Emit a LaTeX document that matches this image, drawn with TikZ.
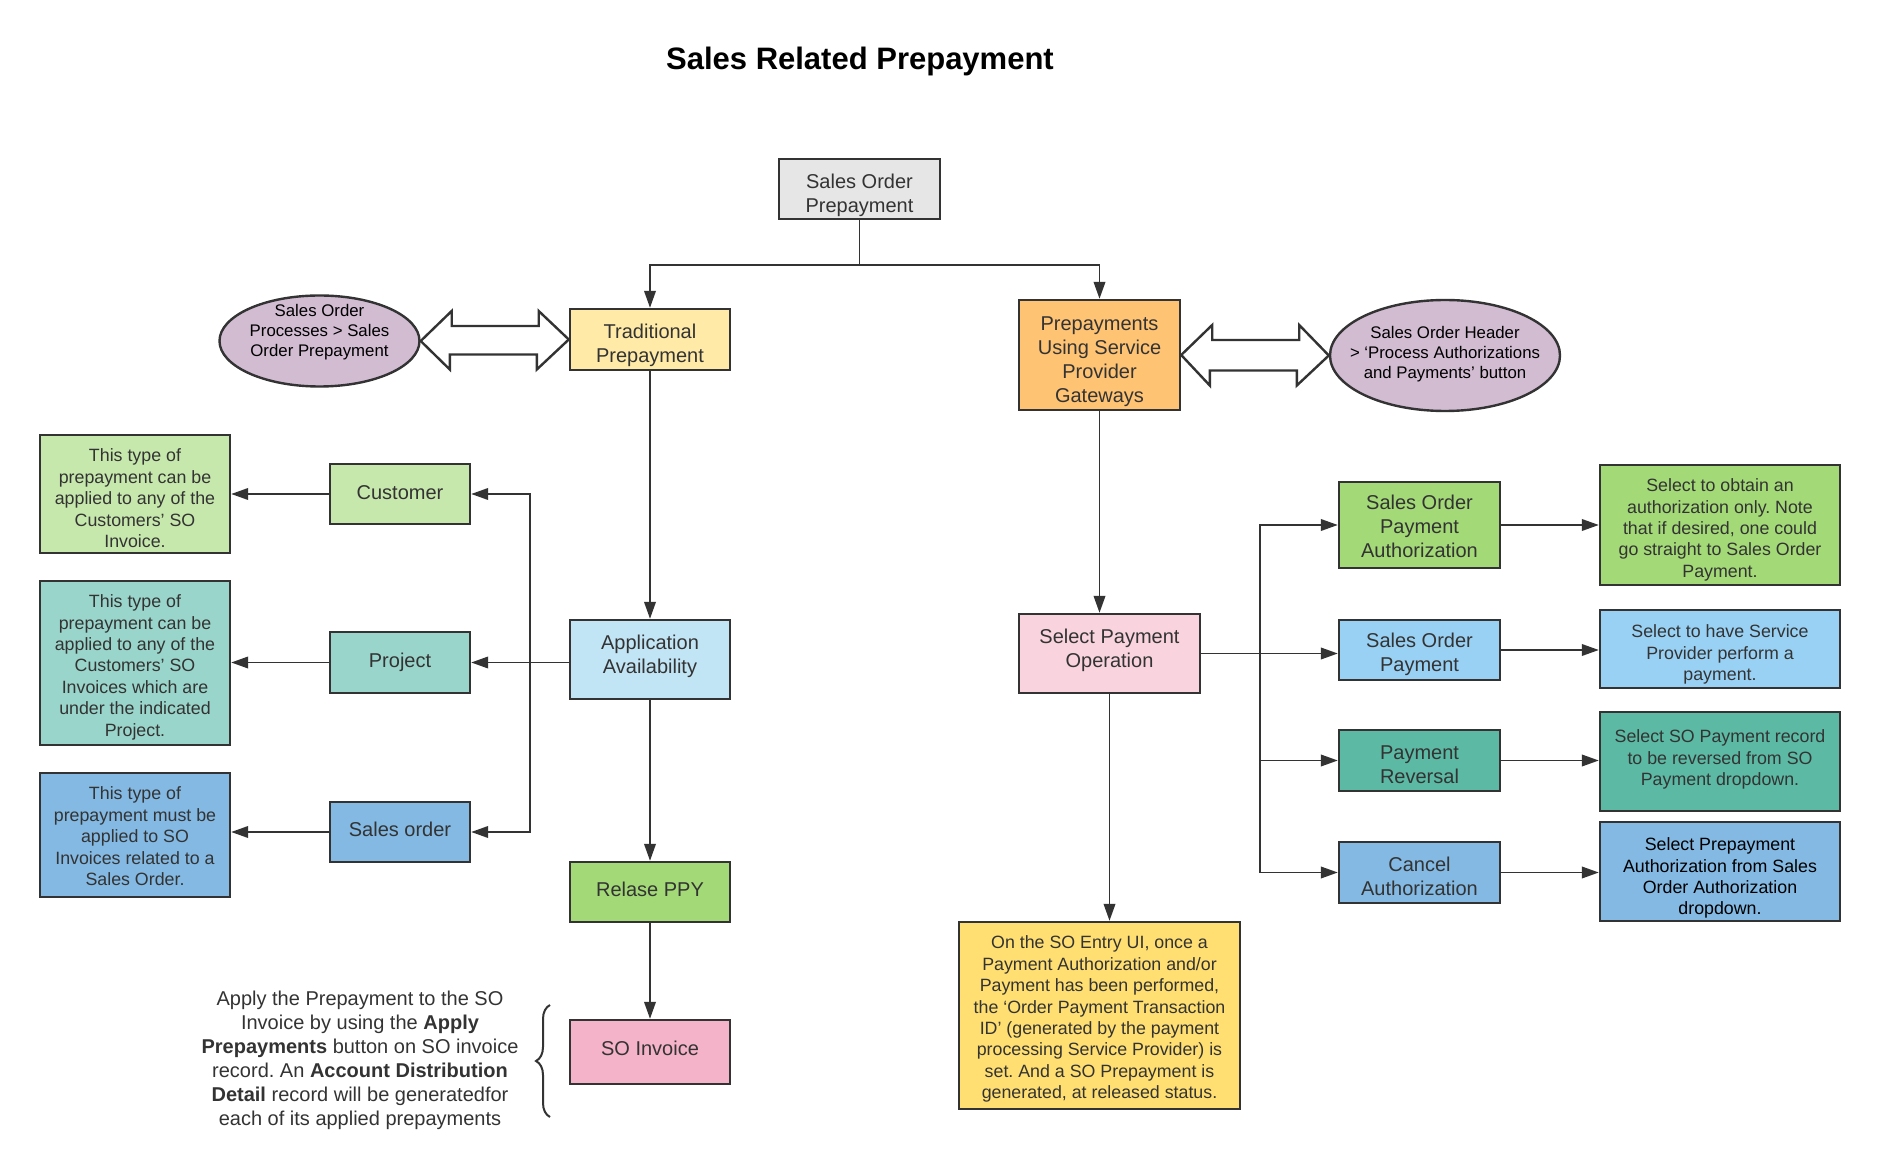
\documentclass[tikz,border=0pt]{standalone}
\usepackage{fontspec}
\setmainfont{Liberation Sans}
\usetikzlibrary{arrows.meta,shapes.geometric,decorations.pathreplacing,calc}
\definecolor{linec}{HTML}{333333}
\definecolor{txt}{HTML}{333333}
\definecolor{cgray}{HTML}{E6E6E6}
\definecolor{ctrad}{HTML}{FFEBA7}
\definecolor{clilac}{HTML}{D2BCD2}
\definecolor{corange}{HTML}{FFC374}
\definecolor{cgreenl}{HTML}{C7E8AC}
\definecolor{cteall}{HTML}{99D5CA}
\definecolor{cblue}{HTML}{83B9E3}
\definecolor{cappl}{HTML}{C2E5F6}
\definecolor{cgreen}{HTML}{A3D977}
\definecolor{cpink}{HTML}{F4B3C8}
\definecolor{cpinkl}{HTML}{F9D4DF}
\definecolor{cyellow}{HTML}{FFDF71}
\definecolor{cbluel}{HTML}{99D1F4}
\definecolor{cteal}{HTML}{5BB9A4}
\newcommand{\boxtext}[2]{\raisebox{#1}[\height][\depth]{\begin{tabular}{@{}c@{}}#2\end{tabular}}}
\tikzset{
  box/.style={draw=linec, line width=1.2pt, inner sep=0pt, text=txt, font=\fontsize{10}{12}\selectfont},
  desc/.style={box, font=\fontsize{8.9}{10.7}\selectfont},
  ell/.style={ellipse, draw=linec, line width=1.2pt, fill=clilac, align=center, inner sep=-25pt, text=black, font=\fontsize{8.4}{10}\selectfont},
  arr/.style={draw=linec, line width=0.95pt, -{Triangle[length=8.5pt,width=5.8pt]}},
  plain/.style={draw=linec, line width=0.95pt},
  blockarr/.style={draw=linec, line width=1.2pt, fill=white, line join=miter},
}
\renewcommand{\arraystretch}{1}
\frenchspacing
\begin{document}
\begin{tikzpicture}[x=0.5pt,y=-0.5pt]
\useasboundingbox (0,0) rectangle (1880,1171);
\node[font=\bfseries\fontsize{15.5}{18}\selectfont, text=black] (title) at (860,61.5) {Sales Related Prepayment};

\node[box, fill=cgray, minimum width=80.5pt, minimum height=30pt] (sop) at (859.5,189) {\boxtext{-3.15pt}{Sales Order\\Prepayment}};
\node[box, fill=ctrad, minimum width=80pt, minimum height=30.5pt] (trad) at (650,339.5) {\boxtext{-3.15pt}{Traditional\\Prepayment}};
\node[ell, minimum width=100pt, minimum height=45.5pt] (ell1) at (319.5,341) {Sales Order\\Processes > Sales\\Order Prepayment\\[1pt]\mbox{}};
\node[box, fill=corange, minimum width=80.5pt, minimum height=55pt] (pusp) at (1099.5,355) {\boxtext{-3.15pt}{Prepayments\\Using Service\\Provider\\Gateways}};
\node[ell, minimum width=115pt, minimum height=55.5pt, text depth=3pt] (ell2) at (1445,355.5) {Sales Order Header\\> ‘Process Authorizations\\and Payments’ button};

\node[box, fill=cgreenl, minimum width=70pt, minimum height=30pt] (cust) at (400,494) {\boxtext{-0.6pt}{Customer}};
\node[desc, fill=cgreenl, minimum width=95pt, minimum height=59pt] (custd) at (135,494) {\boxtext{-3.2pt}{This type of\\prepayment can be\\applied to any of the\\Customers’ SO\\Invoice.}};
\node[box, fill=cteall, minimum width=70pt, minimum height=30.5pt] (proj) at (400,662.5) {\boxtext{-0.15pt}{Project}};
\node[desc, fill=cteall, minimum width=95pt, minimum height=82pt] (projd) at (135,663) {\boxtext{-2.3pt}{This type of\\prepayment can be\\applied to any of the\\Customers’ SO\\Invoices which are\\under the indicated\\Project.}};
\node[box, fill=cblue, minimum width=70pt, minimum height=30pt] (so) at (400,832) {\boxtext{0pt}{Sales order}};
\node[desc, fill=cblue, minimum width=95pt, minimum height=62pt] (sod) at (135,835) {\boxtext{-1.7pt}{This type of\\prepayment must be\\applied to SO\\Invoices related to a\\Sales Order.}};

\node[box, fill=cappl, minimum width=80pt, minimum height=39.5pt] (app) at (650,659.5) {\boxtext{1.65pt}{Application\\Availability}};
\node[box, fill=cgreen, minimum width=80pt, minimum height=30pt] (rel) at (650,892) {\boxtext{0pt}{Relase PPY}};
\node[box, fill=cpink, minimum width=80pt, minimum height=32pt] (inv) at (650,1052) {\boxtext{0.6pt}{SO Invoice}};
\node[text=txt, align=center, font=\fontsize{10}{12}\selectfont, text depth=0.9pt] (apply) at (360,1059) {Apply the Prepayment to the SO\\Invoice by using the \textbf{Apply}\\\textbf{Prepayments} button on SO invoice\\record. An \textbf{Account Distribution}\\\textbf{Detail} record will be generatedfor\\each of its applied prepayments};

\node[box, fill=cpinkl, minimum width=90.5pt, minimum height=39.5pt] (spo) at (1109.5,653.5) {\boxtext{1.65pt}{Select Payment\\Operation}};
\node[desc, fill=cyellow, minimum width=140.5pt, minimum height=93.5pt] (entry) at (1099.5,1015.5) {\boxtext{-2pt}{On the SO Entry UI, once a\\Payment Authorization and/or\\Payment has been performed,\\the ‘Order Payment Transaction\\ID’ (generated by the payment\\processing Service Provider) is\\set. And a SO Prepayment is\\generated, at released status.}};

\node[box, fill=cgreen, minimum width=80.5pt, minimum height=43pt] (sopa) at (1419.5,525) {\boxtext{-1.8pt}{Sales Order\\Payment\\Authorization}};
\node[box, fill=cbluel, minimum width=80.5pt, minimum height=30pt] (sopy) at (1419.5,650) {\boxtext{-2.55pt}{Sales Order\\Payment}};
\node[box, fill=cteal, minimum width=80.5pt, minimum height=30.5pt] (prev) at (1419.5,760.5) {\boxtext{-3pt}{Payment\\Reversal}};
\node[box, fill=cblue, minimum width=80.5pt, minimum height=30.5pt] (canc) at (1419.5,872.5) {\boxtext{-3pt}{Cancel\\Authorization}};

\node[desc, fill=cgreen, minimum width=120pt, minimum height=60pt] (d1) at (1720,525) {\boxtext{-2.6pt}{Select to obtain an\\authorization only. Note\\that if desired, one could\\go straight to Sales Order\\Payment.}};
\node[desc, fill=cbluel, minimum width=120pt, minimum height=39pt] (d2) at (1720,649) {\boxtext{-2.9pt}{Select to have Service\\Provider perform a\\payment.}};
\node[desc, fill=cteal, minimum width=120pt, minimum height=49.5pt] (d3) at (1720,761.5) {\boxtext{0.7pt}{Select SO Payment record\\to be reversed from SO\\Payment dropdown.}};
\node[desc, fill=cblue, text=black, minimum width=120pt, minimum height=49.5pt] (d4) at (1720,871.5) {\boxtext{-3.5pt}{Select Prepayment\\Authorization from Sales\\Order Authorization\\dropdown.}};

% top connectors
\draw[arr] (sop.south) -- ++(0,45) -| (trad.north);
\draw[arr] (sop.south) -- ++(0,45) -| (pusp.north);

% block double arrows
\draw[blockarr] (ell1.east) -- ++(31,-30) -- ++(0,15) -- ++(87,0) -- ++(0,-15) -- (trad.west) -- ++(-32,30) -- ++(0,-15) -- ++(-87,0) -- ++(0,15) -- cycle;
\draw[blockarr] (pusp.east) -- ++(31,-30) -- ++(0,15) -- ++(87,0) -- ++(0,-15) -- (ell2.west) -- ++(-32,30) -- ++(0,-15) -- ++(-87,0) -- ++(0,15) -- cycle;

% left branch
\draw[arr] (trad.south) -- (app.north);
\coordinate (lt) at (530,662.5);
\draw[plain] (app.west |- lt) -- (lt);
\draw[arr] (lt) |- (cust.east);
\draw[arr] (lt) |- (so.east);
\draw[arr] (lt) -- (proj.east);
\draw[arr] (cust.west) -- (custd.east |- cust.west);
\draw[arr] (proj.west) -- (projd.east |- proj.west);
\draw[arr] (so.west) -- (sod.east |- so.west);
\draw[arr] (app.south) -- (rel.north);
\draw[arr] (rel.south) -- (inv.north);
\draw[draw=linec, line width=1pt, decorate, decoration={brace, amplitude=7pt}] (550,1117) -- (550,1005);

% right branch
\draw[arr] (pusp.south) -- (pusp.south |- spo.north);
\draw[arr] (spo.south) -- (spo.south |- entry.north);
\coordinate (rt) at (1260,653.5);
\draw[plain] (spo.east) -- (rt);
\draw[arr] (rt) |- (sopa.west);
\draw[arr] (rt) -- (sopy.west |- rt);
\draw[arr] (rt) |- (prev.west);
\draw[arr] (rt) |- (canc.west);
\draw[arr] (sopa.east) -- (d1.west |- sopa.east);
\draw[arr] (sopy.east) -- (d2.west |- sopy.east);
\draw[arr] (prev.east) -- (d3.west |- prev.east);
\draw[arr] (canc.east) -- (d4.west |- canc.east);
\end{tikzpicture}
\end{document}
